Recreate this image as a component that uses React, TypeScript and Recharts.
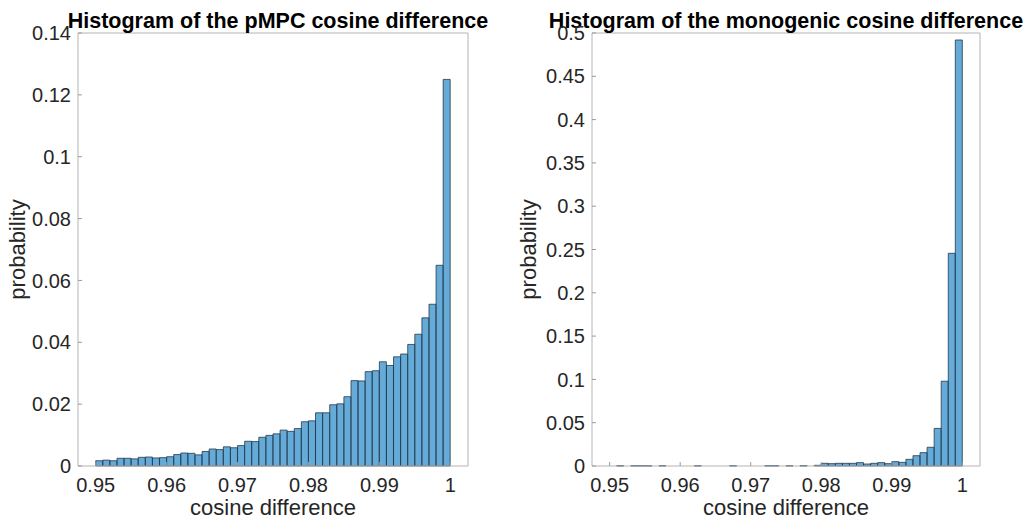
import React from 'react';
import { BarChart, Bar, XAxis, YAxis, Label } from 'recharts';

// histogram bins: 50 bins of width 0.001 from 0.95 to 1
const binStart = 0.95;
const binWidth = 0.001;

const pmpcProb = [
  0.0017, 0.0019, 0.0017, 0.0025, 0.0025, 0.0023, 0.0028, 0.0029, 0.0026, 0.0027,
  0.0030, 0.0037, 0.0042, 0.0041, 0.0036, 0.0047, 0.0055, 0.0053, 0.0062, 0.0059,
  0.0066, 0.0080, 0.0079, 0.0093, 0.0099, 0.0104, 0.0116, 0.0112, 0.0121, 0.0143,
  0.0146, 0.0172, 0.0172, 0.0198, 0.0201, 0.0224, 0.0276, 0.0275, 0.0305, 0.0308,
  0.0337, 0.0325, 0.0353, 0.0362, 0.0393, 0.0426, 0.0479, 0.0523, 0.0649, 0.1250,
];

const monoProb = [
  0, 0.0003, 0, 0.0003, 0.0003, 0.0002, 0, 0.0003, 0, 0,
  0, 0, 0.0003, 0, 0, 0, 0, 0.0003, 0, 0,
  0, 0, 0.0003, 0.0003, 0, 0.0003, 0, 0.0004, 0, 0.0008,
  0.0031, 0.0027, 0.0031, 0.0031, 0.0031, 0.0039, 0.0023, 0.0031, 0.0039, 0.0027,
  0.0050, 0.0042, 0.0077, 0.0119, 0.0154, 0.0216, 0.0434, 0.0979, 0.2456, 0.4919,
];

const xTicks = [0.95, 0.96, 0.97, 0.98, 0.99, 1];
const pmpcYTicks = [0, 0.02, 0.04, 0.06, 0.08, 0.1, 0.12, 0.14];
const monoYTicks = [0, 0.05, 0.1, 0.15, 0.2, 0.25, 0.3, 0.35, 0.4, 0.45, 0.5];

const xDomain = [0.9475, 1.0025];
const font = "'Liberation Sans', Arial, Helvetica, sans-serif";
const frame = '#b4b4b4';
const textCol = '#262626';

const fmt = (v: number) => String(+v.toFixed(3));

const toRows = (vals: number[]) =>
  vals.map((p, i) => ({ x: +(binStart + (i + 0.5) * binWidth).toFixed(4), p }));

type HistProps = {
  title: string;
  values: number[];
  yTicks: number[];
  width: number;
  yAxisWidth: number;
  rightGap: number;
  yLabelX: number;
  titleDx: number;
};

function Histogram({ title, values, yTicks, width, yAxisWidth, rightGap, yLabelX, titleDx }: HistProps) {
  const data = toRows(values);
  const yMax = yTicks[yTicks.length - 1];

  return (
    <BarChart
      width={width}
      height={524}
      data={data}
      margin={{ top: 32, right: rightGap, bottom: 0, left: 0 }}
      barCategoryGap={0}
      barGap={0}
    >
      <XAxis
        dataKey="x"
        type="number"
        domain={xDomain}
        ticks={xTicks}
        tickFormatter={fmt}
        height={58}
        tickSize={-4}
        tickMargin={16}
        axisLine={{ stroke: frame }}
        tickLine={{ stroke: '#9a9a9a' }}
        tick={{ fill: textCol, fontSize: 20, fontFamily: font }}
      >
        <Label
          content={({ viewBox }: any) => (
            <text
              x={viewBox.x + viewBox.width / 2}
              y={viewBox.y + 49}
              textAnchor="middle"
              fill={textCol}
              fontSize={22}
              fontFamily={font}
            >
              cosine difference
            </text>
          )}
        />
      </XAxis>
      <XAxis
        xAxisId="top"
        dataKey="x"
        type="number"
        orientation="top"
        domain={xDomain}
        ticks={xTicks}
        height={1}
        tick={false}
        tickSize={-4}
        axisLine={{ stroke: frame }}
        tickLine={{ stroke: '#9a9a9a' }}
      >
        <Label
          content={({ viewBox }: any) => (
            <text
              x={viewBox.x + viewBox.width / 2 + titleDx}
              y={viewBox.y - 4}
              textAnchor="middle"
              fill="#000"
              fontSize={21.5}
              fontWeight="bold"
              fontFamily={font}
            >
              {title}
            </text>
          )}
        />
      </XAxis>
      <YAxis
        type="number"
        domain={[0, yMax]}
        ticks={yTicks}
        tickFormatter={fmt}
        width={yAxisWidth}
        tickSize={-4}
        tickMargin={11}
        axisLine={{ stroke: frame }}
        tickLine={{ stroke: '#9a9a9a' }}
        tick={{ fill: textCol, fontSize: 20, fontFamily: font }}
      >
        <Label
          content={({ viewBox }: any) => {
            const cx = viewBox.x + yLabelX;
            const cy = viewBox.y + viewBox.height / 2;
            return (
              <text
                x={cx}
                y={cy}
                transform={`rotate(-90 ${cx} ${cy})`}
                textAnchor="middle"
                fill={textCol}
                fontSize={22}
                fontFamily={font}
              >
                probability
              </text>
            );
          }}
        />
      </YAxis>
      <YAxis
        yAxisId="right"
        dataKey="p"
        type="number"
        orientation="right"
        domain={[0, yMax]}
        ticks={yTicks}
        width={1}
        tick={false}
        tickSize={-4}
        axisLine={{ stroke: frame }}
        tickLine={{ stroke: '#9a9a9a' }}
      />
      <Bar
        dataKey="p"
        fill="#0072BD"
        fillOpacity={0.6}
        stroke="#22384a"
        strokeWidth={0.8}
        isAnimationActive={false}
      />
    </BarChart>
  );
}

export default function App() {
  return (
    <div
      style={{
        position: 'absolute',
        left: 0,
        top: 0,
        width: 1036,
        height: 524,
        background: '#fff',
      }}
    >
      <div style={{ position: 'absolute', left: 0, top: 0 }}>
        <Histogram
          title="Histogram of the pMPC cosine difference"
          values={pmpcProb}
          yTicks={pmpcYTicks}
          width={508}
          yAxisWidth={78}
          rightGap={39}
          yLabelX={25}
          titleDx={5}
        />
      </div>
      <div style={{ position: 'absolute', left: 508, top: 0 }}>
        <Histogram
          title="Histogram of the monogenic cosine difference"
          values={monoProb}
          yTicks={monoYTicks}
          width={528}
          yAxisWidth={84}
          rightGap={55}
          yLabelX={28}
          titleDx={0}
        />
      </div>
    </div>
  );
}
